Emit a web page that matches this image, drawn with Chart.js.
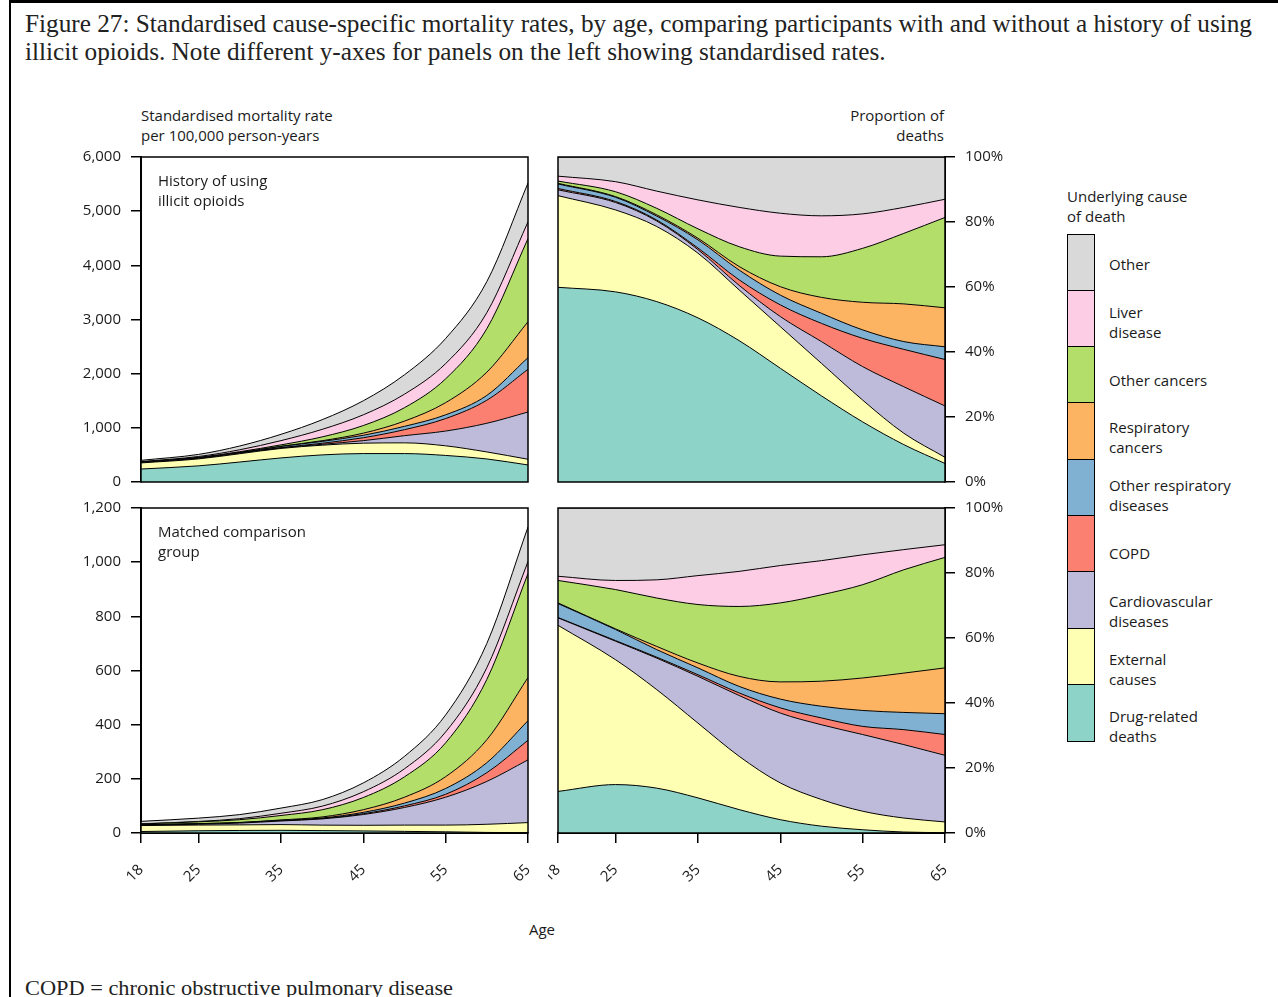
<!DOCTYPE html>
<html>
<head>
<meta charset="utf-8">
<script src="https://cdn.jsdelivr.net/npm/chart.js@4/dist/chart.umd.min.js"></script>
<style>
  html, body { margin: 0; padding: 0; background: #fff; }
  #page { position: relative; width: 1278px; height: 997px; overflow: hidden; background: #fff; }
  .frame { position: absolute; left: 9px; top: 0; width: 1400px; height: 1100px;
           border-top: 3px solid #000; border-left: 2.5px solid #000; box-sizing: border-box; }
  .serif { position: absolute; font-family: "Liberation Serif", "DejaVu Serif", serif; color: #222;
           white-space: nowrap; transform-origin: 0 50%; }
  .sans { position: absolute; font-family: "Open Sans", Lato, sans-serif; font-size: 15px; color: #1a1a1a;
          white-space: nowrap; line-height: 20px; z-index: 2; }
  canvas { position: absolute; }
  .legend-col { position: absolute; left: 1067px; top: 235px; width: 28px; }
  .legend-col div { height: 57.8px; box-sizing: border-box; border: 1.5px solid #000; margin-top: -1.5px; }
</style>
</head>
<body>
<div id="page">
  <div class="frame"></div>

  <div class="serif" id="title1" style="left:25px;top:10px;font-size:25px;line-height:28px;">Figure 27: Standardised cause-specific mortality rates, by age, comparing participants with and without a history of using</div>
  <div class="serif" id="title2" style="left:25px;top:38px;font-size:25px;line-height:28px;">illicit opioids. Note different y-axes for panels on the left showing standardised rates.</div>

  <div class="sans" style="left:141px;top:105px;">Standardised mortality rate<br>per 100,000 person-years</div>
  <div class="sans" style="right:334px;top:105px;text-align:right;">Proportion of<br>deaths</div>

  <canvas id="rateOpioid" width="497" height="345" style="left:41px;top:147px;"></canvas>
  <canvas id="shareOpioid" width="497" height="345" style="left:548px;top:147px;"></canvas>
  <canvas id="rateComparison" width="497" height="395" style="left:41px;top:498px;"></canvas>
  <canvas id="shareComparison" width="497" height="395" style="left:548px;top:498px;"></canvas>

  <div class="sans" style="left:158px;top:170px;">History of using<br>illicit opioids</div>
  <div class="sans" style="left:158px;top:521px;">Matched comparison<br>group</div>

  <div class="sans" style="left:542px;top:919px;transform:translateX(-50%);">Age</div>

  <div class="sans" style="left:1067px;top:186px;">Underlying cause<br>of death</div>
  <div class="legend-col" id="legendCol"></div>
  <div id="legendLabels"></div>

  <div class="serif" id="footnote" style="left:25px;top:974px;font-size:21px;line-height:28px;">COPD = chronic obstructive pulmonary disease</div>
</div>

<script>
// Ages at which the modelled curves are sampled, and the ages labelled on the x axis
const ages = [18, 25, 30, 35, 40, 45, 50, 55, 60, 65];
const ageTicks = [18, 25, 35, 45, 55, 65];

// Causes, stacked from the bottom up
const causes = ['Drug-related deaths', 'External causes', 'Cardiovascular diseases', 'COPD',
  'Other respiratory diseases', 'Respiratory cancers', 'Other cancers', 'Liver disease', 'Other'];
const legendLabels = ['Drug-related<br>deaths', 'External<br>causes', 'Cardiovascular<br>diseases', 'COPD',
  'Other respiratory<br>diseases', 'Respiratory<br>cancers', 'Other cancers', 'Liver<br>disease', 'Other'];
const causeColours = ['#8dd3c7', '#ffffb3', '#bebada', '#fb8072', '#80b1d3', '#fdb462', '#b3de69', '#fccde5', '#d9d9d9'];

// History of using illicit opioids: share of deaths (%) by cause at each age
const opioidDrug      = [59.9, 58.5, 55.5, 50.5, 43.5, 35.0, 26.5, 18.5, 11.5, 5.7];
const opioidExternal  = [28.2, 25.2, 23.1, 19.9, 15.6, 12.8, 10.0, 6.7, 3.5, 1.9];
const opioidCardio    = [1.8, 2.3, 1.7, 1.1, 1.4, 3.1, 6.7, 10.3, 14.3, 15.8];
const opioidCopd      = [0.4, 0.3, 0.3, 0.5, 1.7, 3.6, 5.6, 8.7, 11.5, 14.3];
const opioidOtherResp = [1.4, 1.3, 1.2, 2.5, 3.0, 3.0, 3.1, 2.6, 2.4, 3.9];
const opioidRespCa    = [0.2, 0.2, 0.4, 0.5, 1.1, 2.6, 4.9, 8.5, 11.6, 12.0];
const opioidOtherCa   = [0.7, 1.5, 2.0, 2.9, 6.1, 9.4, 12.5, 16.6, 21.7, 27.8];
const opioidLiver     = [1.5, 3.1, 5.3, 8.9, 12.1, 13.2, 12.6, 10.6, 8.0, 5.6];
const opioidOther     = [5.9, 7.6, 10.5, 13.2, 15.5, 17.3, 18.1, 17.5, 15.5, 13.0];
// All-cause standardised mortality rate per 100,000 person-years
const opioidTotalRate = [400, 510, 665, 880, 1150, 1500, 1980, 2650, 3700, 5520];

// Matched comparison group: share of deaths (%) by cause at each age
const compDrug      = [12.8, 14.9, 13.8, 10.8, 7.2, 4.1, 2.1, 1.0, 0.3, 0.1];
const compExternal  = [51.1, 38.4, 30.3, 23.0, 16.4, 11.3, 8.2, 5.7, 4.3, 3.3];
const compCardio    = [2.3, 5.7, 9.7, 14.4, 18.7, 21.5, 23.0, 23.6, 22.6, 20.5];
const compCopd      = [0.1, 0.2, 0.3, 0.5, 0.8, 1.6, 2.1, 2.5, 4.6, 6.4];
const compOtherResp = [4.3, 3.4, 2.3, 2.1, 2.0, 2.7, 3.6, 4.9, 5.3, 6.4];
const compRespCa    = [0.2, 0.2, 1.0, 1.5, 3.1, 5.3, 7.7, 10.0, 12.1, 14.1];
const compOtherCa   = [6.9, 12.1, 14.9, 18.0, 21.5, 24.3, 26.6, 28.7, 31.8, 34.0];
const compLiver     = [1.3, 2.8, 5.6, 8.9, 10.8, 11.5, 10.5, 9.2, 6.2, 3.9];
const compOther     = [21.0, 22.3, 22.1, 20.8, 19.5, 17.7, 16.2, 14.4, 12.8, 11.3];
const compTotalRate = [43, 55, 68, 92, 123, 185, 283, 436, 700, 1130];

const opioidShares = [opioidDrug, opioidExternal, opioidCardio, opioidCopd, opioidOtherResp,
  opioidRespCa, opioidOtherCa, opioidLiver, opioidOther];
const compShares = [compDrug, compExternal, compCardio, compCopd, compOtherResp,
  compRespCa, compOtherCa, compLiver, compOther];

// Cause-specific rate = share of deaths x all-cause rate
function toRates(shares, totals) {
  return shares.map(s => s.map((p, i) => p / 100 * totals[i]));
}

const TICK_FONT = { family: '"Open Sans", Lato, sans-serif', size: 15 };
const INK = '#1a1a1a';

// Box round each plotting region
const framePlugin = {
  id: 'panelFrame',
  afterDraw(chart) {
    const a = chart.chartArea, ctx = chart.ctx;
    ctx.save();
    ctx.strokeStyle = '#000';
    ctx.lineWidth = 1.5;
    ctx.strokeRect(a.left, a.top, a.right - a.left, a.bottom - a.top);
    ctx.restore();
  }
};

function makePanel(id, series, opts) {
  const datasets = series.map((vals, k) => ({
    label: causes[k],
    data: vals.map((v, i) => ({ x: ages[i], y: v })),
    backgroundColor: causeColours[k],
    borderColor: '#000',
    borderWidth: 1,
    pointRadius: 0,
    cubicInterpolationMode: 'monotone',
    fill: k === 0 ? 'origin' : '-1'
  }));

  const xAxis = {
    type: 'linear', min: 18, max: 65,
    display: opts.showX,
    afterBuildTicks(scale) { scale.ticks = ageTicks.map(v => ({ value: v })); },
    grid: { display: true, drawOnChartArea: false, drawTicks: true, tickLength: 10, color: '#000', lineWidth: 1.5 },
    border: { display: true, color: '#000', width: 2 },
    ticks: { autoSkip: false, minRotation: 45, maxRotation: 45, padding: 18, color: INK, font: TICK_FONT },
    afterFit(scale) {
      if (opts.showX) { scale.height = 60; } else { scale.height = 0; }
      scale.paddingLeft = 0; scale.paddingRight = 0;
    }
  };

  const yAxis = {
    type: 'linear', stacked: true, position: opts.yPos, min: 0, max: opts.yMax,
    grid: { display: true, drawOnChartArea: false, drawTicks: true, tickLength: 10, color: '#000', lineWidth: 1.5 },
    border: { display: true, color: '#000', width: 2 },
    ticks: {
      stepSize: opts.yStep, padding: 10, color: INK, font: TICK_FONT,
      callback: opts.pct ? (v => v + '%') : (v => v.toLocaleString('en-US'))
    },
    afterFit(scale) { scale.width = 100; scale.paddingTop = 0; scale.paddingBottom = 0; }
  };

  return new Chart(document.getElementById(id), {
    type: 'line',
    data: { datasets },
    options: {
      responsive: false, animation: false, devicePixelRatio: 1,
      layout: { padding: opts.padding },
      plugins: { legend: { display: false }, tooltip: { enabled: false } },
      elements: { line: { borderJoinStyle: 'round' } },
      scales: { x: xAxis, y: yAxis }
    },
    plugins: [framePlugin]
  });
}

makePanel('rateOpioid', toRates(opioidShares, opioidTotalRate),
  { yMax: 6000, yStep: 1000, yPos: 'left', pct: false, showX: false,
    padding: { left: 0, right: 10, top: 10, bottom: 10 } });
makePanel('shareOpioid', opioidShares,
  { yMax: 100, yStep: 20, yPos: 'right', pct: true, showX: false,
    padding: { left: 10, right: 0, top: 10, bottom: 10 } });
makePanel('rateComparison', toRates(compShares, compTotalRate),
  { yMax: 1200, yStep: 200, yPos: 'left', pct: false, showX: true,
    padding: { left: 0, right: 10, top: 10, bottom: 0 } });
makePanel('shareComparison', compShares,
  { yMax: 100, yStep: 20, yPos: 'right', pct: true, showX: true,
    padding: { left: 10, right: 0, top: 10, bottom: 0 } });

// Legend: colour key (top = Other) with labels beside each box
const col = document.getElementById('legendCol');
const lab = document.getElementById('legendLabels');
const boxH = 57.8;
for (let r = 0; r < causes.length; r++) {
  const k = causes.length - 1 - r;
  const box = document.createElement('div');
  box.style.background = causeColours[k];
  col.appendChild(box);
  const t = document.createElement('div');
  t.className = 'sans';
  t.innerHTML = legendLabels[k];
  t.style.left = '1109px';
  const lines = legendLabels[k].split('<br>').length;
  const centre = 235 + boxH * (r + 0.5);
  t.style.top = (centre - lines * 10) + 'px';
  lab.appendChild(t);
}

// Condensed serif for the caption lines
function fitWidth(el, target) {
  const w = el.getBoundingClientRect().width;
  const s = target / w;
  el.style.transform = 'scaleX(' + s + ')';
  return s;
}
const s1 = fitWidth(document.getElementById('title1'), 1227);
document.getElementById('title2').style.transform = 'scaleX(' + s1 + ')';
fitWidth(document.getElementById('footnote'), 428);
</script>
</body>
</html>
